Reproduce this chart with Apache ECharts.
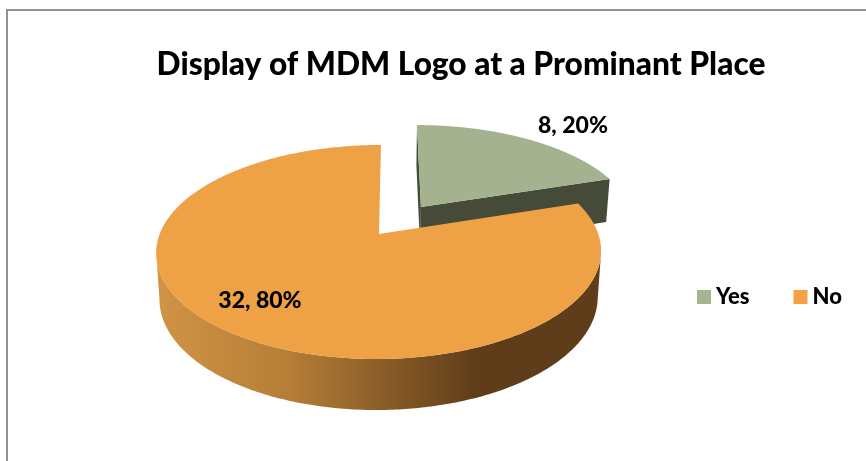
<!DOCTYPE html>
<html><head><meta charset="utf-8">
<style>html,body{margin:0;padding:0;background:#fff}#c{width:866px;height:461px}</style>
<script src="https://cdn.jsdelivr.net/npm/echarts@6/dist/echarts.min.js"></script>
</head><body><div id="c"></div>
<script>
const titleText = 'Display of MDM Logo at a Prominant Place';
const categories = ['Yes', 'No'];
const values = [8, 32];

const topColors = ['#A5B28F', '#EFA145'];
const legendColors = ['#A6B48F', '#F4A144'];

// view of the tilted disc: perspective plane mapping
const view = { cx: 379, cy: 234, a: 219.3, b: 104, k: 0.168, skew: 2.3,
  depthBase: 45.4, depthSlope: 1.0447, bottomScale: 0.985, explode: [0.335, 0] };
const labelPos = [[573, 126], [260, 301]];

const total = values.reduce((s, v) => s + v, 0);
function project(x, z, bottom) {
  const d = 1 + view.k * z;
  let u = (view.a * x + view.skew * z) / d, v = view.b * z / d;
  if (bottom) return [view.cx + u * view.bottomScale, view.cy + view.depthBase - v * view.depthSlope];
  return [view.cx + u, view.cy - v];
}
function sliceAngles(i) {
  let before = 0;
  for (let j = 0; j < i; j++) before += values[j];
  return [before / total * Math.PI * 2, (before + values[i]) / total * Math.PI * 2];
}
function arc(i, bottom, frontOnly) {
  const [s, e] = sliceAngles(i);
  const ex = view.explode[i], mid = (s + e) / 2;
  const ox = ex * Math.sin(mid), oz = ex * Math.cos(mid);
  const pts = [];
  const n = 400;
  for (let t = 0; t <= n; t++) {
    const q = s + (e - s) * t / n;
    if (frontOnly && Math.cos(q) > -view.k) continue;
    pts.push(project(ox + Math.sin(q), oz + Math.cos(q), bottom));
  }
  return { pts, apex: project(ox, oz, bottom) };
}
function poly(points, fill) {
  return { type: 'polygon', shape: { points }, style: { fill }, silent: true };
}
function renderSlice(i) {
  const top = arc(i, false, false);
  const children = [];
  if (i === 0) {
    const wall = '#454A39';
    const bot = arc(i, true, false);
    const a = top.pts[0], z = top.pts[top.pts.length - 1];
    const ab = bot.pts[0], zb = bot.pts[bot.pts.length - 1];
    children.push(poly([top.apex, a, ab, bot.apex], wall));
    children.push(poly([top.apex, z, zb, bot.apex], wall));
  } else {
    const rimTop = arc(i, false, true).pts, rimBot = arc(i, true, true).pts.reverse();
    children.push(poly(rimTop.concat(rimBot), {
      type: 'linear', x: 155, y: 0, x2: 600, y2: 0, global: true,
      colorStops: [
        { offset: 0, color: '#D29445' },
        { offset: 0.3, color: '#B57E37' },
        { offset: 0.72, color: '#603D1A' },
        { offset: 1, color: '#603D1A' }
      ]
    }));
  }
  children.push(poly([top.apex].concat(top.pts), topColors[i]));
  const pct = Math.round(values[i] / total * 100);
  children.push({
    type: 'text', silent: true, x: labelPos[i][0], y: labelPos[i][1],
    style: { text: values[i] + ', ' + pct + '%', fontFamily: 'Lato', fontWeight: 900, fontSize: 23,
      fill: '#000', align: 'center', verticalAlign: 'middle' }
  });
  return { type: 'group', children };
}

const chart = echarts.init(document.getElementById('c'), null, { renderer: 'canvas' });
chart.setOption({
  animation: false,
  backgroundColor: '#fff',
  color: legendColors,
  title: {
    text: titleText, left: 456, top: 44, textAlign: 'center',
    textStyle: { fontFamily: 'Lato', fontWeight: 900, fontSize: 31.7, color: '#000' }
  },
  legend: {
    data: categories, orient: 'horizontal', left: 697, top: 286, padding: 0, itemWidth: 14, itemHeight: 14,
    itemGap: 44, icon: 'rect', selectedMode: false,
    textStyle: { fontFamily: 'Lato', fontWeight: 900, fontSize: 22, color: '#000' }
  },
  graphic: [{ type: 'rect', silent: true, shape: { x: 7, y: 10, width: 900, height: 500 },
    style: { fill: 'none', stroke: '#929292', lineWidth: 2 }, z: 100 }],
  series: categories.map((name, i) => ({
    type: 'custom', name, coordinateSystem: 'none', z: 2 + i,
    data: [values[i]],
    renderItem: () => renderSlice(i)
  }))
});
</script></body></html>
